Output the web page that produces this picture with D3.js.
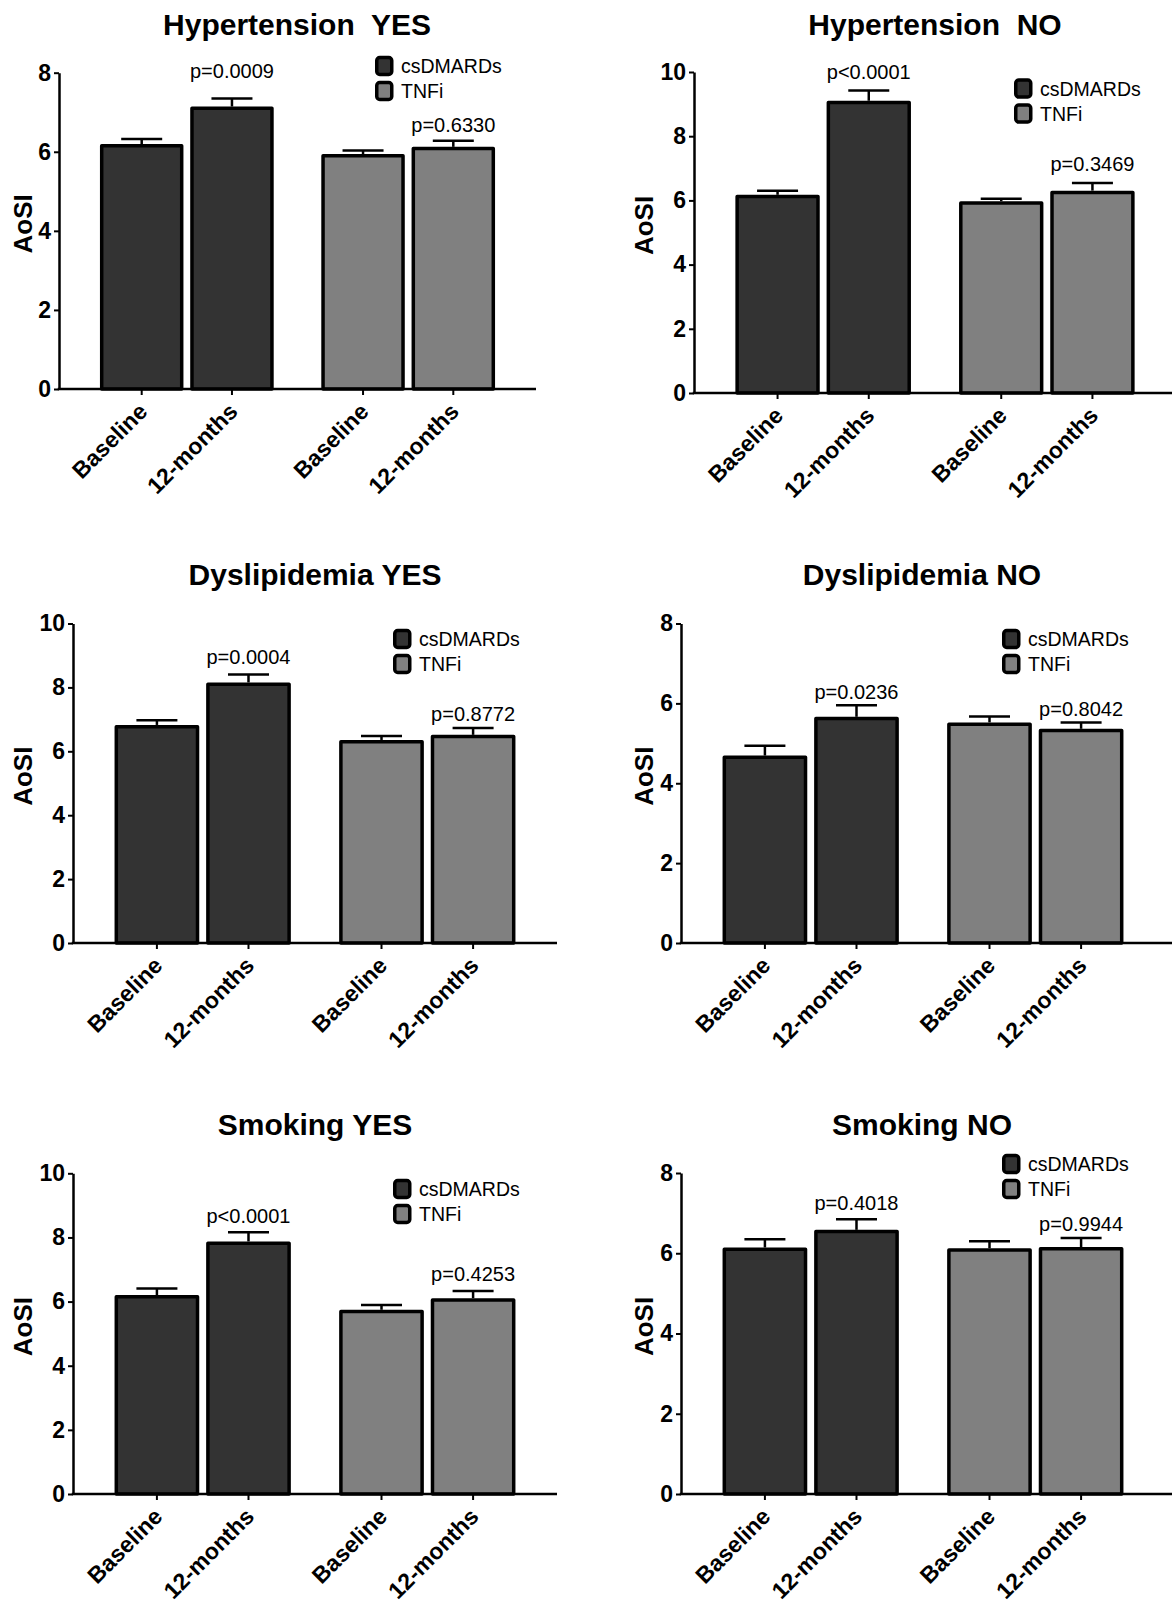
<!DOCTYPE html>
<html>
<head>
<meta charset="utf-8">
<script src="https://cdn.jsdelivr.net/npm/d3@7"></script>
<style>
  body { margin: 0; background: #fff; }
  svg text { font-family: "Liberation Sans", Arial, sans-serif; }
</style>
</head>
<body>
<svg id="fig" width="1172" height="1605"></svg>
<script>
// Panel titles
var panelTitles = ["Hypertension  YES", "Hypertension  NO", "Dyslipidemia YES",
                   "Dyslipidemia NO", "Smoking YES", "Smoking NO"];
// treatment groups and time points
var groups = ["csDMARDs", "TNFi"];
var timepoints = ["Baseline", "12-months"];
// y axis max for each panel
var yMax = [8, 10, 10, 8, 10, 8];
// mean AoSI: csDMARDs baseline, csDMARDs 12m, TNFi baseline, TNFi 12m
var meanAoSI = [
    [6.15, 7.10, 5.90, 6.08],
    [6.12, 9.05, 5.92, 6.25],
    [6.77, 8.10, 6.30, 6.46],
    [4.65, 5.62, 5.48, 5.32],
    [6.15, 7.82, 5.69, 6.05],
    [6.10, 6.54, 6.08, 6.11]
];
// SEM (upper error bar)
var semAoSI = [
    [0.17, 0.25, 0.13, 0.20],
    [0.18, 0.37, 0.13, 0.29],
    [0.20, 0.30, 0.18, 0.27],
    [0.29, 0.33, 0.19, 0.20],
    [0.26, 0.34, 0.20, 0.28],
    [0.25, 0.31, 0.22, 0.27]
];
// p values (csDMARDs, TNFi)
var pLabels = [
    ["p=0.0009", "p=0.6330"],
    ["p<0.0001", "p=0.3469"],
    ["p=0.0004", "p=0.8772"],
    ["p=0.0236", "p=0.8042"],
    ["p<0.0001", "p=0.4253"],
    ["p=0.4018", "p=0.9944"]
];

var colors = {"csDMARDs": "#333333", "TNFi": "#808080"};

// where each panel sits on the page
var layout = [
    {ax: 59,  top: 72.7,   zero: 389,  bandEnd: 536,  axisEnd: 536,  tx: 297, ty: 35,   lx: 375,  ly: 66,   labX: 23,  pGap: [28, 16]},
    {ax: 694, top: 72,     zero: 393,  bandEnd: 1176, axisEnd: 1172, tx: 935, ty: 35,   lx: 1014, ly: 88.5, labX: 644, pGap: [19, 19]},
    {ax: 73,  top: 623.5,  zero: 943,  bandEnd: 557,  axisEnd: 557,  tx: 315, ty: 585,  lx: 393,  ly: 639,  labX: 23,  pGap: [18, 14]},
    {ax: 681, top: 623.5,  zero: 943,  bandEnd: 1165, axisEnd: 1172, tx: 922, ty: 585,  lx: 1002, ly: 639,  labX: 644, pGap: [14, 13.5]},
    {ax: 73,  top: 1173.3, zero: 1494, bandEnd: 557,  axisEnd: 557,  tx: 315, ty: 1135, lx: 393,  ly: 1189, labX: 23,  pGap: [17, 17]},
    {ax: 681, top: 1173,   zero: 1494, bandEnd: 1165, axisEnd: 1172, tx: 922, ty: 1135, lx: 1002, ly: 1164, labX: 644, pGap: [16, 14]}
];

var svg = d3.select("#fig");
var barStroke = 3.5;

panelTitles.forEach(function (title, i) {
    var L = layout[i];
    var g = svg.append("g");

    var y = d3.scaleLinear().domain([0, yMax[i]]).range([L.zero, L.top]);
    var xGroup = d3.scaleBand().domain(groups)
        .range([L.ax, L.bandEnd]).paddingInner(0.215).paddingOuter(0.185);
    var xTime = d3.scaleBand().domain(timepoints)
        .range([0, xGroup.bandwidth()]).paddingInner(0.075);

    var bars = [];
    groups.forEach(function (grp, gi) {
        timepoints.forEach(function (tp, ti) {
            var k = gi * 2 + ti;
            bars.push({
                group: grp, time: tp,
                mean: meanAoSI[i][k], sem: semAoSI[i][k],
                x: xGroup(grp) + xTime(tp), w: xTime.bandwidth()
            });
        });
    });

    // title
    g.append("text")
        .attr("x", L.tx).attr("y", L.ty)
        .attr("text-anchor", "middle")
        .style("white-space", "pre")
        .style("font-size", "30px").style("font-weight", "bold")
        .text(title);

    // bars
    g.selectAll("rect.bar").data(bars).enter().append("rect")
        .attr("class", "bar")
        .attr("x", function (d) { return d.x + barStroke / 2; })
        .attr("width", function (d) { return d.w - barStroke; })
        .attr("y", function (d) { return y(d.mean); })
        .attr("height", function (d) { return L.zero - y(d.mean); })
        .attr("fill", function (d) { return colors[d.group]; })
        .attr("stroke", "#000").attr("stroke-width", barStroke)
        .attr("stroke-linejoin", "round");

    // error bars (upper only)
    g.selectAll("line.err").data(bars).enter().append("line")
        .attr("x1", function (d) { return d.x + d.w / 2; })
        .attr("x2", function (d) { return d.x + d.w / 2; })
        .attr("y1", function (d) { return y(d.mean) - barStroke / 2; })
        .attr("y2", function (d) { return y(d.mean + d.sem); })
        .attr("stroke", "#000").attr("stroke-width", 2.5);
    g.selectAll("line.cap").data(bars).enter().append("line")
        .attr("x1", function (d) { return d.x + d.w / 2 - 20.5; })
        .attr("x2", function (d) { return d.x + d.w / 2 + 20.5; })
        .attr("y1", function (d) { return y(d.mean + d.sem); })
        .attr("y2", function (d) { return y(d.mean + d.sem); })
        .attr("stroke", "#000").attr("stroke-width", 2.5);

    // p values over the 12-month bars
    bars.filter(function (d) { return d.time === "12-months"; }).forEach(function (d, gi) {
        g.append("text")
            .attr("x", d.x + d.w / 2)
            .attr("y", y(d.mean + d.sem) - L.pGap[gi])
            .attr("dy", "0.36em")
            .attr("text-anchor", "middle")
            .style("font-size", "20px")
            .text(pLabels[i][gi]);
    });

    // y axis
    var yAxis = g.append("g")
        .attr("transform", "translate(" + L.ax + ",0)")
        .call(d3.axisLeft(y).tickValues(d3.range(0, yMax[i] + 1, 2))
            .tickFormat(d3.format("d")).tickSize(5).tickSizeOuter(0).tickPadding(3));
    yAxis.select(".domain").attr("stroke-width", 2.5);
    yAxis.selectAll(".tick line").attr("stroke-width", 2);
    yAxis.selectAll(".tick text")
        .style("font-family", "'Liberation Sans', Arial, sans-serif")
        .style("font-size", "23px").style("font-weight", "bold")
        .attr("fill", "#000");

    // x axis
    g.append("line")
        .attr("x1", L.ax - 1.25).attr("x2", L.axisEnd)
        .attr("y1", L.zero).attr("y2", L.zero)
        .attr("stroke", "#000").attr("stroke-width", 2.5);
    g.selectAll("line.xtick").data(bars).enter().append("line")
        .attr("x1", function (d) { return d.x + d.w / 2; })
        .attr("x2", function (d) { return d.x + d.w / 2; })
        .attr("y1", L.zero).attr("y2", L.zero + 6)
        .attr("stroke", "#000").attr("stroke-width", 2);
    g.selectAll("text.xlab").data(bars).enter().append("text")
        .attr("transform", function (d) {
            return "translate(" + (d.x + d.w / 2 + 7) + "," + (L.zero + 24) + ") rotate(-45)";
        })
        .attr("text-anchor", "end")
        .style("font-size", "23px").style("font-weight", "bold")
        .text(function (d) { return d.time; });

    // y label
    g.append("text")
        .attr("transform", "translate(" + L.labX + "," + ((L.top + L.zero) / 2 - 7) + ") rotate(-90)")
        .attr("dy", "0.36em")
        .attr("text-anchor", "middle")
        .style("font-size", "26px").style("font-weight", "bold")
        .text("AoSI");

    // legend
    var leg = g.selectAll("g.leg").data(groups).enter().append("g")
        .attr("transform", function (d, k) { return "translate(" + L.lx + "," + (L.ly + k * 25) + ")"; });
    leg.append("rect")
        .attr("x", 1.75).attr("y", -8.5)
        .attr("width", 15).attr("height", 17)
        .attr("rx", 3)
        .attr("fill", function (d) { return colors[d]; })
        .attr("stroke", "#000").attr("stroke-width", 3.5);
    leg.append("text")
        .attr("x", 26).attr("dy", "0.36em")
        .style("font-size", "19.5px")
        .text(function (d) { return d; });
});
</script>
</body>
</html>
